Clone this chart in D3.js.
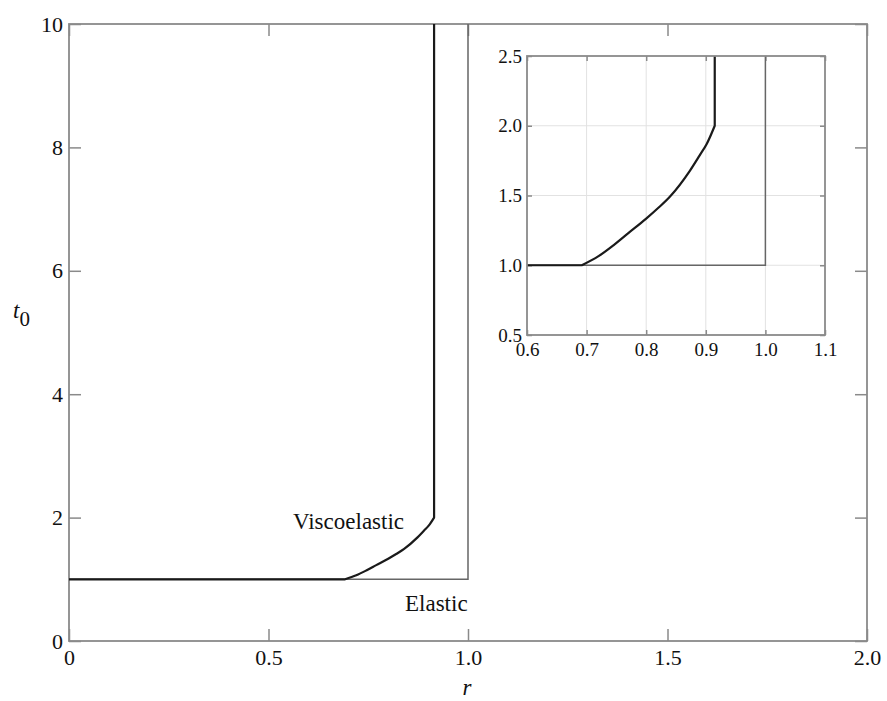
<!DOCTYPE html>
<html>
<head>
<meta charset="utf-8">
<script src="https://cdn.jsdelivr.net/npm/d3@7/dist/d3.min.js"></script>
<style>
  html, body { margin: 0; padding: 0; background: #fff; }
  svg { display: block; }
</style>
</head>
<body>
<svg id="chart" width="887" height="701" font-family="Times New Roman, Liberation Serif, Times"></svg>
<script>
// Critical loading time t0 versus ratio r
const viscoR = [0, 0.692, 0.72, 0.745, 0.77, 0.80, 0.82, 0.84, 0.8735, 0.89, 0.9015, 0.915, 0.915];
const viscoT = [1, 1, 1.065, 1.143, 1.23, 1.334, 1.41, 1.493, 1.679, 1.79, 1.869, 2.0, 10];
const elasticR = [0, 1, 1];
const elasticT = [1, 1, 10];

const mainXTicks = [0, 0.5, 1.0, 1.5, 2.0];
const mainXLabels = ["0", "0.5", "1.0", "1.5", "2.0"];
const mainYTicks = [0, 2, 4, 6, 8, 10];
const mainYLabels = ["0", "2", "4", "6", "8", "10"];
const insetXTicks = [0.6, 0.7, 0.8, 0.9, 1.0, 1.1];
const insetXLabels = ["0.6", "0.7", "0.8", "0.9", "1.0", "1.1"];
const insetYTicks = [0.5, 1.0, 1.5, 2.0, 2.5];
const insetYLabels = ["0.5", "1.0", "1.5", "2.0", "2.5"];

const SERIF = '"Times New Roman", "Liberation Serif", Times, monospace';
const svg = d3.select("#chart");
const frameColor = "#8a8a8a";

const visco = viscoR.map((r, i) => [r, viscoT[i]]);
const elastic = elasticR.map((r, i) => [r, elasticT[i]]);
// straight plateau, smooth rise, straight vertical branch
const viscoFlat = visco.slice(0, 2);
const viscoRise = visco.slice(1, visco.length - 1);
const viscoTop = visco.slice(visco.length - 2);

function styleAxis(g, size) {
  g.attr("font-family", null);
  g.select(".domain").remove();
  g.selectAll(".tick line").attr("stroke", frameColor).attr("stroke-width", 1.5);
  g.selectAll(".tick text").style("font-size", size + "px").style("font-family", SERIF).attr("fill", "#111");
}

function drawVisco(g, sx, sy) {
  const straight = d3.line().x(d => sx(d[0])).y(d => sy(d[1]));
  const smooth = d3.line().x(d => sx(d[0])).y(d => sy(d[1])).curve(d3.curveMonotoneX);
  const d = straight(viscoFlat) + smooth(viscoRise).replace(/^M/, "L") +
            straight(viscoTop).replace(/^M/, "L");
  g.append("path").attr("d", d)
    .attr("fill", "none").attr("stroke", "#1a1a1a").attr("stroke-width", 2.2).attr("stroke-linejoin", "round");
}

// ---------- main panel ----------
const M = { left: 69, right: 867, top: 24, bottom: 641 };
const x = d3.scaleLinear().domain([0, 2]).range([M.left, M.right]);
const y = d3.scaleLinear().domain([0, 10]).range([M.bottom, M.top]);

const main = svg.append("g");
main.append("g").attr("transform", `translate(0,${M.bottom})`)
  .call(d3.axisBottom(x).tickValues(mainXTicks).tickFormat((d, i) => mainXLabels[i]).tickSizeInner(-12).tickSizeOuter(0).tickPadding(8))
  .call(g => styleAxis(g, 22));
main.append("g").attr("transform", `translate(0,${M.top})`)
  .call(d3.axisTop(x).tickValues(mainXTicks).tickFormat("").tickSizeInner(-12).tickSizeOuter(0))
  .call(g => styleAxis(g, 22));
main.append("g").attr("transform", `translate(${M.left},0)`)
  .call(d3.axisLeft(y).tickValues(mainYTicks).tickFormat((d, i) => mainYLabels[i]).tickSizeInner(-12).tickSizeOuter(0).tickPadding(6))
  .call(g => styleAxis(g, 22));
main.append("g").attr("transform", `translate(${M.right},0)`)
  .call(d3.axisRight(y).tickValues(mainYTicks).tickFormat("").tickSizeInner(-12).tickSizeOuter(0))
  .call(g => styleAxis(g, 22));

main.append("rect")
  .attr("x", M.left).attr("y", M.top)
  .attr("width", M.right - M.left).attr("height", M.bottom - M.top)
  .attr("fill", "none").attr("stroke", frameColor).attr("stroke-width", 1.8);

const lineMain = d3.line().x(d => x(d[0])).y(d => y(d[1]));
main.append("path").attr("d", lineMain(elastic))
  .attr("fill", "none").attr("stroke", "#666").attr("stroke-width", 1.5);
drawVisco(main, x, y);

main.append("text").attr("x", 293).attr("y", 529).attr("fill", "#111")
  .style("font-size", "23px").style("font-family", SERIF).text("Viscoelastic");
main.append("text").attr("x", 405).attr("y", 611).attr("fill", "#111")
  .style("font-size", "23px").style("font-family", SERIF).text("Elastic");

// axis titles
main.append("text").attr("x", (M.left + M.right) / 2 - 1).attr("y", 695).attr("fill", "#111")
  .attr("text-anchor", "middle").style("font-size", "23px").style("font-style", "italic").style("font-family", SERIF).text("r");
const t0 = main.append("text").attr("x", 13).attr("y", 318).attr("fill", "#111")
  .style("font-size", "23px").style("font-family", SERIF);
t0.append("tspan").style("font-style", "italic").text("t");
t0.append("tspan").attr("dy", 8).style("font-size", "21px").text("0");

// ---------- inset panel ----------
const I = { left: 527, right: 825, top: 56, bottom: 335 };
const xi = d3.scaleLinear().domain([0.6, 1.1]).range([I.left, I.right]);
const yi = d3.scaleLinear().domain([0.5, 2.5]).range([I.bottom, I.top]);
const inset = svg.append("g");

// grid
inset.append("g").selectAll("line").data(insetXTicks.slice(1, -1)).join("line")
  .attr("x1", d => xi(d)).attr("x2", d => xi(d)).attr("y1", I.top).attr("y2", I.bottom)
  .attr("stroke", "#e2e2e2").attr("stroke-width", 1);
inset.append("g").selectAll("line").data(insetYTicks.slice(1, -1)).join("line")
  .attr("y1", d => yi(d)).attr("y2", d => yi(d)).attr("x1", I.left).attr("x2", I.right)
  .attr("stroke", "#e2e2e2").attr("stroke-width", 1);

inset.append("g").attr("transform", `translate(0,${I.bottom})`)
  .call(d3.axisBottom(xi).tickValues(insetXTicks).tickFormat((d, i) => insetXLabels[i]).tickSizeInner(-5).tickSizeOuter(0).tickPadding(8))
  .call(g => styleAxis(g, 19));
inset.append("g").attr("transform", `translate(0,${I.top})`)
  .call(d3.axisTop(xi).tickValues(insetXTicks).tickFormat("").tickSizeInner(-5).tickSizeOuter(0))
  .call(g => styleAxis(g, 19));
inset.append("g").attr("transform", `translate(${I.left},0)`)
  .call(d3.axisLeft(yi).tickValues(insetYTicks).tickFormat((d, i) => insetYLabels[i]).tickSizeInner(-5).tickSizeOuter(0).tickPadding(5))
  .call(g => styleAxis(g, 19));
inset.append("g").attr("transform", `translate(${I.right},0)`)
  .call(d3.axisRight(yi).tickValues(insetYTicks).tickFormat("").tickSizeInner(-5).tickSizeOuter(0))
  .call(g => styleAxis(g, 19));

svg.append("defs").append("clipPath").attr("id", "insetClip")
  .append("rect").attr("x", I.left).attr("y", I.top)
  .attr("width", I.right - I.left).attr("height", I.bottom - I.top);

const lineInset = d3.line().x(d => xi(d[0])).y(d => yi(d[1]));
const plotI = inset.append("g").attr("clip-path", "url(#insetClip)");
plotI.append("path").attr("d", lineInset(elastic))
  .attr("fill", "none").attr("stroke", "#666").attr("stroke-width", 1.5);
drawVisco(plotI, xi, yi);

inset.append("rect")
  .attr("x", I.left).attr("y", I.top)
  .attr("width", I.right - I.left).attr("height", I.bottom - I.top)
  .attr("fill", "none").attr("stroke", frameColor).attr("stroke-width", 1.8);
</script>
</body>
</html>
